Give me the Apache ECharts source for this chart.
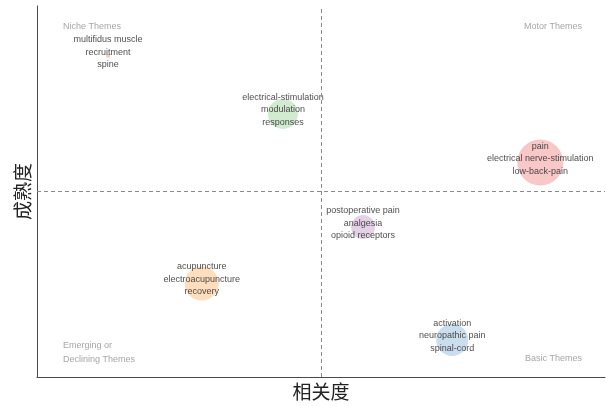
<!DOCTYPE html>
<html>
<head>
<meta charset="utf-8">
<script src="https://cdn.jsdelivr.net/npm/echarts@6/dist/echarts.min.js"></script>
<style>
  html, body { margin: 0; padding: 0; background: #fff; }
  #chart { width: 607px; height: 406px; }
</style>
</head>
<body>
<div id="chart"></div>
<script>
// Thematic map: each cluster is placed by relevance (x) and maturity (y)
const clusterLabels = [
  'multifidus muscle\nrecruitment\nspine',
  'electrical-stimulation\nmodulation\nresponses',
  'pain\nelectrical nerve-stimulation\nlow-back-pain',
  'postoperative pain\nanalgesia\nopioid receptors',
  'acupuncture\nelectroacupuncture\nrecovery',
  'activation\nneuropathic pain\nspinal-cord'
];
const relevance = [0.125, 0.433, 0.886, 0.574, 0.290, 0.731];
const maturity  = [0.865, 0.709, 0.578, 0.404, 0.252, 0.100];
const clusterFreq = [4, 30, 46, 24, 34, 32];
const clusterColors = [
  'rgba(166,86,40,0.32)', 'rgba(77,175,74,0.32)', 'rgba(228,26,28,0.30)',
  'rgba(152,78,163,0.32)', 'rgba(255,127,0,0.32)', 'rgba(55,126,184,0.32)'
];

// quadrant dividers
const relevanceMean = 0.5035;
const maturityMean = 0.501;

const points = relevance.map((x, i) => ({
  value: [x, maturity[i]],
  name: clusterLabels[i],
  symbolSize: clusterFreq[i],
  itemStyle: { color: clusterColors[i] }
}));

const chart = echarts.init(document.getElementById('chart'));
const quadText = (txt) => ({
  text: txt, font: '9px "Liberation Sans", Arial, sans-serif',
  fill: '#a6a6a6', lineHeight: 13.5
});

chart.setOption({
  animation: false,
  grid: { left: 37, right: 2, top: 6, bottom: 29 },
  xAxis: {
    type: 'value', min: 0, max: 1,
    name: '相关度', nameLocation: 'middle', nameGap: 5,
    nameTextStyle: { fontFamily: 'Noto Sans CJK SC', fontSize: 19, color: '#222', verticalAlign: 'top' },
    axisLine: { show: true, lineStyle: { color: '#4a4a4a', width: 1 } },
    axisTick: { show: false }, axisLabel: { show: false }, splitLine: { show: false }
  },
  yAxis: {
    type: 'value', min: 0, max: 1,
    name: '成熟度', nameLocation: 'middle', nameGap: 5,
    nameTextStyle: { fontFamily: 'Noto Sans CJK SC', fontSize: 19, color: '#222', verticalAlign: 'bottom' },
    axisLine: { show: true, lineStyle: { color: '#4a4a4a', width: 1 } },
    axisTick: { show: false }, axisLabel: { show: false }, splitLine: { show: false }
  },
  graphic: [
    { type: 'text', left: 63, top: 20, style: quadText('Niche Themes') },
    { type: 'text', right: 25, top: 20, style: quadText('Motor Themes') },
    { type: 'text', left: 63, top: 339, style: quadText('Emerging or\nDeclining Themes') },
    { type: 'text', right: 25, top: 352, style: quadText('Basic Themes') }
  ],
  series: [{
    type: 'scatter',
    data: points,
    label: {
      show: true, position: 'inside', offset: [0, -4],
      formatter: (p) => p.name,
      fontFamily: '"Liberation Sans", Arial, sans-serif',
      fontSize: 9, lineHeight: 12.5, color: '#222'
    },
    emphasis: { disabled: true },
    markLine: {
      silent: true, symbol: 'none',
      label: { show: false },
      lineStyle: { color: '#8a8a8a', type: [4, 3], width: 1 },
      data: [{ xAxis: relevanceMean }, { yAxis: maturityMean }]
    }
  }]
});
</script>
</body>
</html>
